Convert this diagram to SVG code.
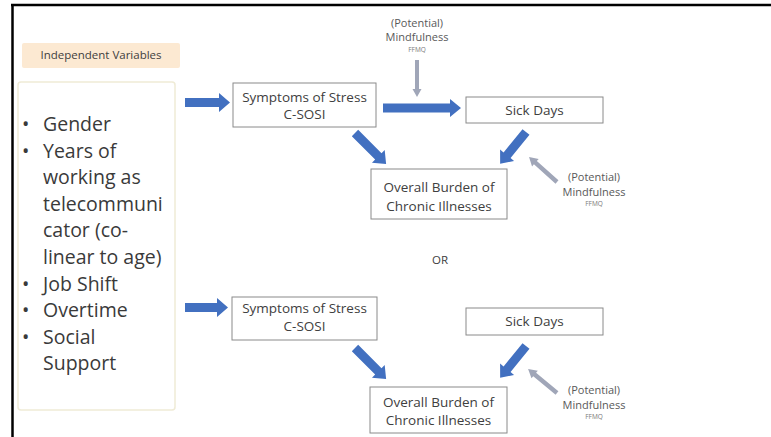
<svg xmlns="http://www.w3.org/2000/svg" width="771" height="437" viewBox="0 0 771 437">
<style>
  text { font-family: "Open Sans", "Liberation Sans", sans-serif; fill: #404040; }
  .box { fill: #ffffff; stroke: #8a8a8a; stroke-width: 1; }
  .lbl { font-size: 13.5px; text-anchor: middle; }
  .bul { font-size: 19.5px; fill: #3a3a3a; }
  .mind { font-size: 11px; text-anchor: middle; fill: #595959; }
  .ffmq { font-size: 6.5px; text-anchor: middle; fill: #7a7a7a; }
  .blue { fill: #4270C0; }
  .grey { fill: #A0A6B8; }
</style>
<defs>
  <path id="diag" d="M0,-4.5 H33 V-9 L44,0 L33,9 V4.5 H0 Z"/>
  <path id="diag2" d="M0,-4.5 H30 V-9 L41,0 L30,9 V4.5 H0 Z"/>
  <path id="gdiag" d="M0,-2.2 H29 V-5 L37.5,0 L29,5 V2.2 H0 Z"/>
</defs>
<rect width="771" height="437" fill="#ffffff"/>
<!-- frame -->
<line x1="11" y1="5" x2="771" y2="5" stroke="#000" stroke-width="2.5"/>
<line x1="12.5" y1="4" x2="12.5" y2="437" stroke="#000" stroke-width="2.5"/>

<g id="iv-label">
  <rect x="22" y="43" width="158" height="25" rx="2" fill="#FCE9D2"/>
  <text x="101" y="59" font-size="11.5" text-anchor="middle" fill="#5a5040">Independent Variables</text>
</g>

<g id="iv-list">
  <rect x="18" y="82" width="157" height="328" rx="3" fill="#ffffff" stroke="#EFEBD6" stroke-width="1.5"/>
  <g class="bul">
    <text x="22" y="131" class="bul">•</text><text x="43" y="131" class="bul">Gender</text>
    <text x="22" y="157.6" class="bul">•</text><text x="43" y="157.6" class="bul">Years of</text>
    <text x="43" y="184.2" class="bul">working as</text>
    <text x="43" y="210.8" class="bul">telecommuni</text>
    <text x="43" y="237.4" class="bul">cator (co-</text>
    <text x="43" y="264" class="bul">linear to age)</text>
    <text x="22" y="290.6" class="bul">•</text><text x="43" y="290.6" class="bul">Job Shift</text>
    <text x="22" y="317.2" class="bul">•</text><text x="43" y="317.2" class="bul">Overtime</text>
    <text x="22" y="343.8" class="bul">•</text><text x="43" y="343.8" class="bul">Social</text>
    <text x="43" y="370.4" class="bul">Support</text>
  </g>
</g>

<g id="stress1">
  <rect class="box" x="233" y="83" width="143" height="44"/>
  <text class="lbl" x="304.5" y="102">Symptoms of Stress</text>
  <text class="lbl" x="304.5" y="119">C-SOSI</text>
</g>
<g id="sick1">
  <rect class="box" x="466" y="97" width="137" height="26"/>
  <text class="lbl" x="534.5" y="114.5">Sick Days</text>
</g>
<g id="burden1">
  <rect class="box" x="371" y="169" width="136" height="50"/>
  <text class="lbl" x="439" y="192">Overall Burden of</text>
  <text class="lbl" x="439" y="211">Chronic Illnesses</text>
</g>
<g id="mind1">
  <text class="mind" x="417" y="27">(Potential)</text>
  <text class="mind" x="417" y="41">Mindfulness</text>
  <text class="ffmq" x="417" y="52">FFMQ</text>
</g>
<g id="mind2">
  <text class="mind" x="594" y="181">(Potential)</text>
  <text class="mind" x="594" y="196">Mindfulness</text>
  <text class="ffmq" x="594" y="206">FFMQ</text>
</g>

<g id="or">
  <text x="440" y="264" font-size="11.5" text-anchor="middle">OR</text>
</g>

<g id="stress2">
  <rect class="box" x="232" y="297" width="145" height="43"/>
  <text class="lbl" x="304.5" y="313">Symptoms of Stress</text>
  <text class="lbl" x="304.5" y="330.5">C-SOSI</text>
</g>
<g id="sick2">
  <rect class="box" x="466" y="308" width="137" height="27"/>
  <text class="lbl" x="534.5" y="326">Sick Days</text>
</g>
<g id="burden2">
  <rect class="box" x="370" y="387" width="137" height="46"/>
  <text class="lbl" x="438.5" y="406.5">Overall Burden of</text>
  <text class="lbl" x="438.5" y="425">Chronic Illnesses</text>
</g>
<g id="mind3">
  <text class="mind" x="594" y="394">(Potential)</text>
  <text class="mind" x="594" y="409">Mindfulness</text>
  <text class="ffmq" x="594" y="419">FFMQ</text>
</g>

<g id="connectors">
  <polygon class="blue" points="185,98 219,98 219,93 230,102.5 219,112 219,107 185,107"/>
  <polygon class="blue" points="383,103.5 450,103.5 450,99 461,108 450,117 450,112.5 383,112.5"/>
  <use href="#diag" class="blue" transform="translate(355,133) rotate(45)"/>
  <use href="#diag2" class="blue" transform="translate(526,132) rotate(129.1)"/>
  <polygon class="grey" points="415,60 419,60 419,89 421.5,89 417,97 412.5,89 415,89"/>
  <use href="#gdiag" class="grey" transform="translate(557,182) rotate(-138.2)"/>

  <polygon class="blue" points="185,303 217,303 217,298 228,307.5 217,317 217,312 185,312"/>
  <use href="#diag" class="blue" transform="translate(355,348) rotate(45)"/>
  <use href="#diag2" class="blue" transform="translate(526,346) rotate(129.1)"/>
  <use href="#gdiag" class="grey" transform="translate(557,393) rotate(-140.4)"/>
</g>
</svg>
